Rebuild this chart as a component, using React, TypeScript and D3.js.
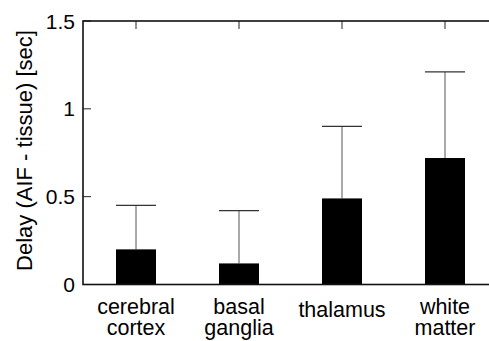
import React from "react";
import * as d3 from "d3";

const categories = [["cerebral", "cortex"], ["basal", "ganglia"], ["thalamus"], ["white", "matter"]];
const means = [0.2, 0.12, 0.49, 0.72];
const errors = [0.25, 0.3, 0.41, 0.49];
const yTicks = [0, 0.5, 1, 1.5];
const yTickLabels = ["0", "0.5", "1", "1.5"];

export default function App() {
  const W = 489, H = 341;
  const left = 83, top = 21, bottom = 284.5, right = 497;
  const font = "Liberation Sans, Arial, Helvetica, sans-serif";
  const y = d3.scaleLinear().domain([0, 1.5]).range([bottom, top]);
  const x = d3.scalePoint<number>().domain(d3.range(categories.length)).range([136, 445]);
  const bw = 40;
  return (
    <svg width={W} height={H} style={{ position: "absolute", left: 0, top: 0 }}>
      <rect width={W} height={H} fill="#fff" />
      {means.map((m, i) => {
        const cx = x(i)!;
        return (
          <g key={i}>
            <line x1={cx} x2={cx} y1={y(m)} y2={y(m + errors[i])} stroke="#555" strokeWidth={1} />
            <line x1={cx - bw / 2} x2={cx + bw / 2} y1={y(m + errors[i])} y2={y(m + errors[i])} stroke="#333" strokeWidth={1.2} />
            <rect x={cx - bw / 2} y={y(m)} width={bw} height={bottom - y(m)} fill="#000" />
          </g>
        );
      })}
      {yTicks.map((t, i) => (
        <g key={"y" + i}>
          <line x1={left} x2={left + 8} y1={y(t)} y2={y(t)} stroke="#222" />
          <line x1={right - 8} x2={right} y1={y(t)} y2={y(t)} stroke="#222" />
          <text x={75} y={y(t)} dy="0.36em" textAnchor="end" fontFamily={font} fontSize={21} fill="#000">
            {yTickLabels[i]}
          </text>
        </g>
      ))}
      {categories.map((c, i) => (
        <line key={"t" + i} x1={x(i)!} x2={x(i)!} y1={top} y2={top + 8} stroke="#222" />
      ))}
      <rect x={left} y={top} width={right - left} height={bottom - top} fill="none" stroke="#111" strokeWidth={1.6} />
      {categories.map((c, i) => (
        <text key={"c" + i} x={x(i)!} y={c.length === 1 ? 317 : 313.5} textAnchor="middle" fontFamily={font} fontSize={21.5} fill="#000">
          {c.map((l, j) => (
            <tspan key={j} x={x(i)!} dy={j === 0 ? 0 : 21}>{l}</tspan>
          ))}
        </text>
      ))}
      <text transform={`translate(31.5,150.5) rotate(-90)`} textAnchor="middle" fontFamily={font} fontSize={22} fill="#000">
        Delay (AIF - tissue) [sec]
      </text>
    </svg>
  );
}
